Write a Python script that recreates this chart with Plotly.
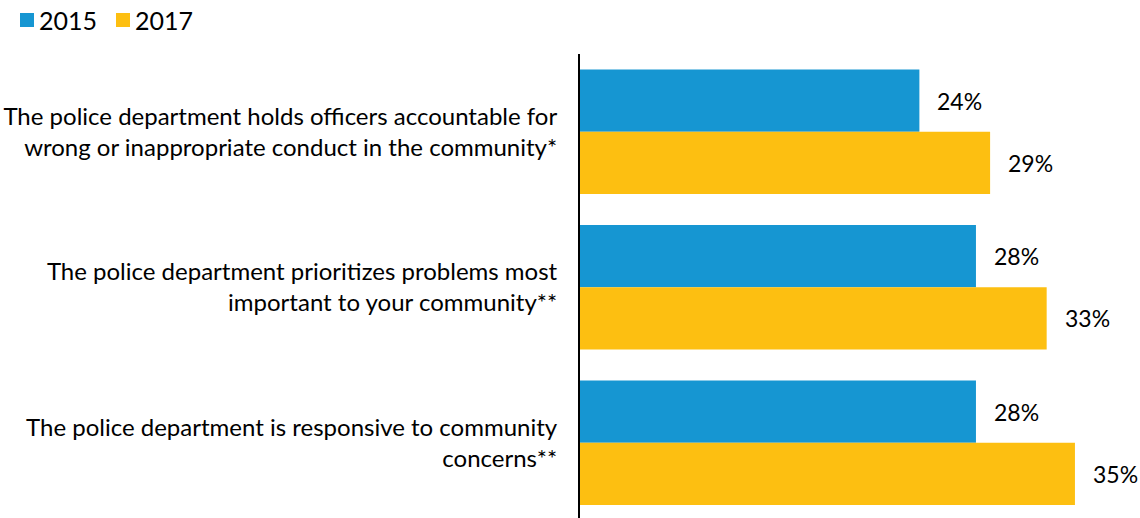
import plotly.graph_objects as go

# Survey statements and share of respondents agreeing, by year
statements = [
    "The police department holds officers accountable for<br>wrong or inappropriate conduct in the community*",
    "The police department prioritizes problems most<br>important to your community**",
    "The police department is responsive to community<br>concerns**",
]
years = ["2015", "2017"]
values_2015 = [24, 28, 28]
values_2017 = [29, 33, 35]

colors = {"2015": "#1696d2", "2017": "#fdbf11"}
series = {"2015": values_2015, "2017": values_2017}

W, H = 1140, 518
ML, MT = 580, 54
PW, PH = W - ML, H - MT


def px_x(px):
    return (px - ML) / PW


def px_y(py):
    return (H - py) / PH


fig = go.Figure()
for yr in years:
    fig.add_trace(go.Bar(
        y=statements,
        x=series[yr],
        name=yr,
        orientation="h",
        marker=dict(color=colors[yr], line=dict(width=0)),
        hoverinfo="skip",
        showlegend=False,
    ))

# Value labels placed just past the end of each bar
for yr, shift in (("2015", 31), ("2017", -31)):
    for s, v in zip(statements, series[yr]):
        fig.add_annotation(
            x=v, y=s, text=f"{v}%", showarrow=False,
            xanchor="left", xshift=16, yshift=shift,
            font=dict(family="Lato", size=23, color="#000000"),
        )

# Legend: colour square followed by year label
for i, yr in enumerate(years):
    x0 = 20 + 96 * i
    fig.add_shape(
        type="rect", xref="paper", yref="paper",
        x0=px_x(x0), x1=px_x(x0 + 14), y0=px_y(27), y1=px_y(13),
        fillcolor=colors[yr], line=dict(width=0),
    )
    fig.add_annotation(
        xref="paper", yref="paper", x=px_x(x0 + 17), y=px_y(20),
        text=yr, showarrow=False, xanchor="left", yanchor="middle",
        font=dict(family="Lato", size=25, color="#000000"),
    )

fig.update_layout(
    width=W, height=H,
    margin=dict(l=ML, r=0, t=MT, b=0),
    paper_bgcolor="white", plot_bgcolor="white",
    barmode="group", bargap=0.2, bargroupgap=0,
    font=dict(family="Lato", size=23, color="#000000"),
    showlegend=False,
    xaxis=dict(
        range=[0, 39.6], showgrid=False, zeroline=False,
        showticklabels=False, showline=False,
    ),
    yaxis=dict(
        range=[2.484, -0.5], showgrid=False, zeroline=False,
        showline=True, linecolor="#000000", linewidth=2,
        ticks="", ticklabelstandoff=16,
        tickfont=dict(family="Lato", size=24, color="#000000"),
    ),
)

fig.write_html("out.html")
